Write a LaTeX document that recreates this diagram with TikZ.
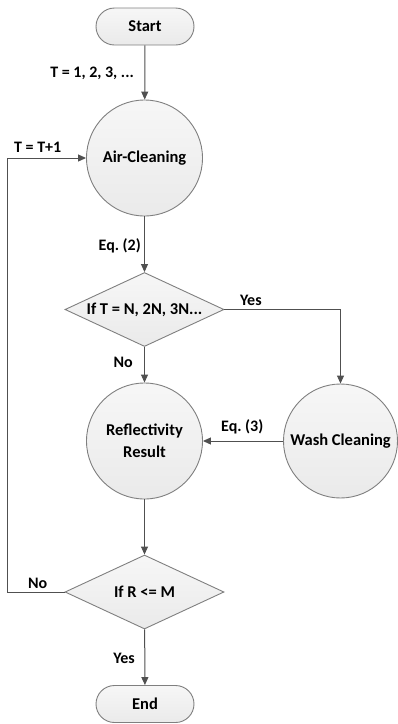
\documentclass[tikz,border=0pt]{standalone}
\usepackage{fontspec}
\setmainfont{Carlito}
\usetikzlibrary{shapes.geometric,shapes.misc,arrows.meta}
\definecolor{bordc}{HTML}{7F7F7F}
\definecolor{linec}{HTML}{505050}
\definecolor{fillc}{HTML}{EAEAEA}
\tikzset{
  shapebase/.style={draw=bordc, line width=0.9pt, top color=white!60!fillc, bottom color=fillc, font=\bfseries\fontsize{16.5}{19}\selectfont, text=black, inner sep=0pt},
  term/.style={shapebase, rounded rectangle, minimum width=98pt, minimum height=37pt},
  proc/.style={shapebase, circle, minimum size=116pt, align=center},
  dec/.style={shapebase, diamond, minimum width=159pt, minimum height=74pt, aspect=2.15},
  conn/.style={draw=linec, line width=1pt, -{Triangle[length=8pt,width=7pt]}},
  lbl/.style={font=\bfseries\fontsize{16}{18}\selectfont, text=black, inner sep=0pt}
}
\begin{document}
\frenchspacing
\begin{tikzpicture}[x=1pt,y=-1pt]
\useasboundingbox (0,0) rectangle (398,724);
\node[term] (start) at (145,26.5) {Start};
\node[proc] (air) at (144.5,158) {Air-Cleaning};
\node[dec] (d1) at (144.5,309.5) {If T = N, 2N, 3N...};
\node[proc] (refl) at (144.5,441) {Reflectivity\\[3pt]Result};
\node[proc, minimum size=114pt] (wash) at (340.5,441) {Wash Cleaning};
\node[dec] (d2) at (144.5,592) {If R <= M};
\node[term] (end) at (145,704) {End};
\coordinate (wc) at (340.5,309.5);
\coordinate (lb) at (7,592);
\coordinate (lt) at (7,158);

\draw[conn] (start) -- (air);
\draw[conn] (air) -- (d1);
\draw[conn] (d1) -- (refl);
\draw[conn] (d1.east) -- (wc) -- (wash);
\draw[conn] (wash) -- (refl);
\draw[conn] (refl) -- (d2);
\draw[conn] (d2) -- (end);
\draw[conn] (d2.west) -- (lb) -- (lt) -- (air.west);

\node[lbl, anchor=east] (l1) at (134,73.5) {T = 1, 2, 3, ...};
\node[lbl, anchor=west] (l2) at (14,147) {T = T+1};
\node[lbl, anchor=east] (l3) at (141,245.5) {Eq.\ (2)};
\node[lbl, anchor=west] (l4) at (240,300) {Yes};
\node[lbl, anchor=east] (l5) at (133,362.5) {No};
\node[lbl, anchor=west] (l6) at (221,427) {Eq.\ (3)};
\node[lbl, anchor=west] (l7) at (28,583) {No};
\node[lbl, anchor=east] (l8) at (135,658) {Yes};
\end{tikzpicture}
\end{document}
